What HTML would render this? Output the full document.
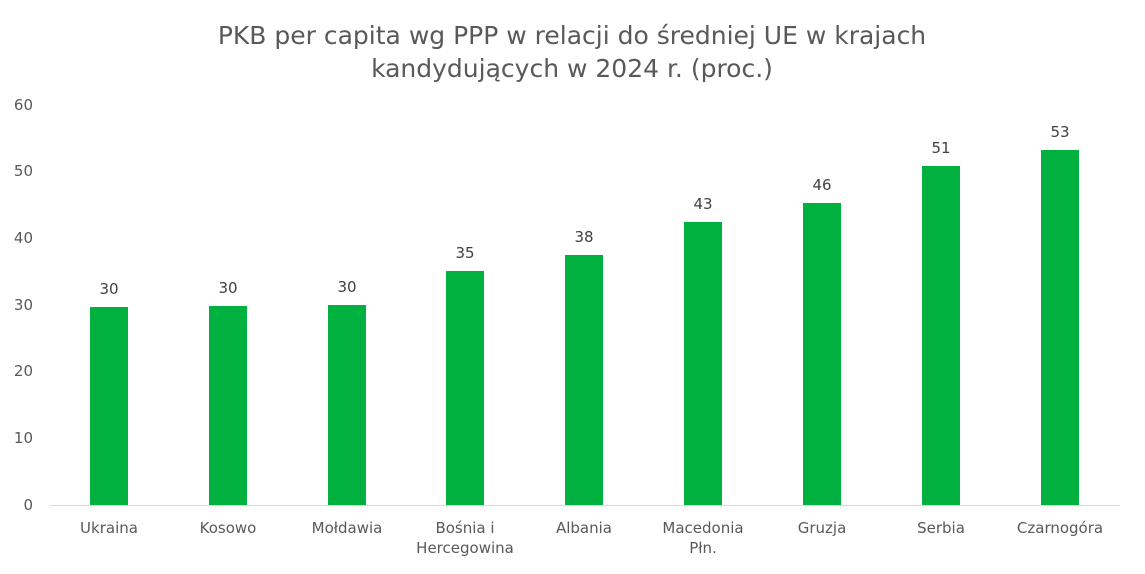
<!DOCTYPE html>
<html><head><meta charset="utf-8"><style>
html,body{margin:0;padding:0;background:#fff;}
svg{display:block;font-family:"DejaVu Sans","Liberation Sans",sans-serif;}
</style></head><body>
<svg width="1145" height="574" viewBox="0 0 1145 574" xmlns="http://www.w3.org/2000/svg">
<g fill="#595959" text-anchor="middle" font-size="25">
<text x="572" y="44">PKB per capita wg PPP w relacji do średniej UE w krajach</text>
<text x="572" y="77">kandydujących w 2024 r. (proc.)</text>
</g>
<g fill="#595959" text-anchor="end" font-size="15">
<text x="33" y="510">0</text>
<text x="33" y="443">10</text>
<text x="33" y="376">20</text>
<text x="33" y="310">30</text>
<text x="33" y="243">40</text>
<text x="33" y="176">50</text>
<text x="33" y="110">60</text>
</g>
<line x1="50" y1="505.5" x2="1120" y2="505.5" stroke="#d9d9d9" stroke-width="1"/>
<g fill="#00b140">
<rect x="90" y="307" width="38" height="198"/>
<rect x="209" y="306" width="38" height="199"/>
<rect x="328" y="305" width="38" height="200"/>
<rect x="446" y="271" width="38" height="234"/>
<rect x="565" y="255" width="38" height="250"/>
<rect x="684" y="222" width="38" height="283"/>
<rect x="803" y="203" width="38" height="302"/>
<rect x="922" y="166" width="38" height="339"/>
<rect x="1041" y="150" width="38" height="355"/>
</g>
<g fill="#404040" text-anchor="middle" font-size="15">
<text x="109" y="294">30</text>
<text x="228" y="293">30</text>
<text x="347" y="292">30</text>
<text x="465" y="258">35</text>
<text x="584" y="242">38</text>
<text x="703" y="209">43</text>
<text x="822" y="190">46</text>
<text x="941" y="153">51</text>
<text x="1060" y="137">53</text>
</g>
<g fill="#595959" text-anchor="middle" font-size="15">
<text x="109" y="533">Ukraina</text>
<text x="228" y="533">Kosowo</text>
<text x="347" y="533">Mołdawia</text>
<text x="465" y="533">Bośnia i</text>
<text x="465" y="553">Hercegowina</text>
<text x="584" y="533">Albania</text>
<text x="703" y="533">Macedonia</text>
<text x="703" y="553">Płn.</text>
<text x="822" y="533">Gruzja</text>
<text x="941" y="533">Serbia</text>
<text x="1060" y="533">Czarnogóra</text>
</g>
</svg>
</body></html>
